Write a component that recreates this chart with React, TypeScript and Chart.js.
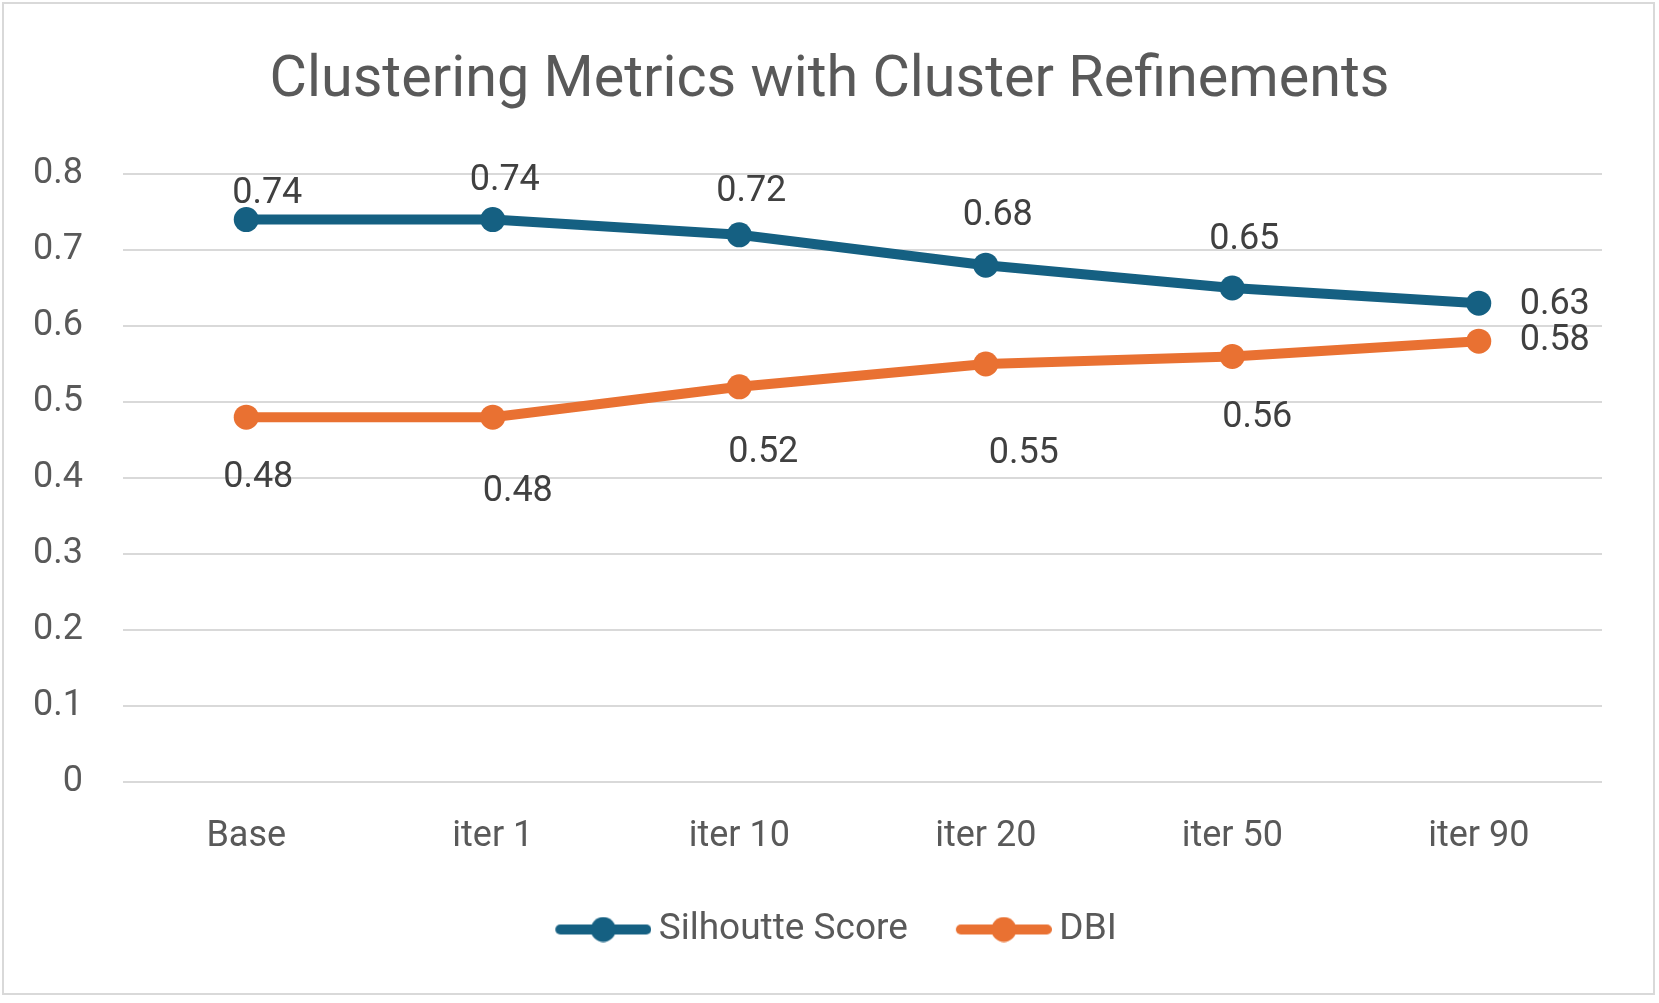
import React, { useEffect, useRef } from "react";
import { Chart, registerables } from "chart.js";

Chart.register(...registerables);

const categories = ["Base", "iter 1", "iter 10", "iter 20", "iter 50", "iter 90"];
const silhouetteScores = [0.74, 0.74, 0.72, 0.68, 0.65, 0.63];
const dbiScores = [0.48, 0.48, 0.52, 0.55, 0.56, 0.58];
const seriesNames = ["Silhoutte Score", "DBI"];
const chartTitle = "Clustering Metrics with Cluster Refinements";
const yMin = 0;
const yMax = 0.8;
const yStep = 0.1;

// style: pixel offsets of the data labels relative to their points
const labelOffsets = [
  [[21, -26], [12, -39], [12, -43], [12, -49], [12, -48], [76, 2]],
  [[12, 61], [25, 75], [24, 66], [38, 90], [25, 62], [76, 0]],
];

const COLORS = ["#156082", "#E97132"];
const FONT = "Roboto";

function makeLegendIcon(color: string) {
  const c = document.createElement("canvas");
  c.width = 120;
  c.height = 26;
  const ctx = c.getContext("2d")!;
  ctx.strokeStyle = color;
  ctx.lineWidth = 10;
  ctx.lineCap = "round";
  ctx.beginPath();
  ctx.moveTo(29, 13);
  ctx.lineTo(115, 13);
  ctx.stroke();
  ctx.fillStyle = color;
  ctx.beginPath();
  ctx.arc(72, 13, 12.5, 0, Math.PI * 2);
  ctx.fill();
  return c;
}

const dataLabelPlugin = {
  id: "dataLabelPlugin",
  afterDatasetsDraw(chart: any) {
    const ctx = chart.ctx;
    ctx.save();
    ctx.font = `36px ${FONT}`;
    ctx.fillStyle = "#404040";
    ctx.textAlign = "center";
    ctx.textBaseline = "middle";
    chart.data.datasets.forEach((ds: any, di: number) => {
      const meta = chart.getDatasetMeta(di);
      meta.data.forEach((pt: any, i: number) => {
        const off = labelOffsets[di][i];
        ctx.fillText(String(ds.data[i]), pt.x + off[0], pt.y + off[1]);
      });
    });
    ctx.restore();
  },
};

export default function App() {
  const ref = useRef<HTMLCanvasElement>(null);

  useEffect(() => {
    const icons = COLORS.map(makeLegendIcon);
    const chart = new Chart(ref.current!, {
      type: "line",
      data: {
        labels: categories,
        datasets: [
          {
            label: seriesNames[0],
            data: silhouetteScores,
            borderColor: COLORS[0],
            backgroundColor: COLORS[0],
            borderWidth: 10,
            pointRadius: 12.5,
            pointBorderWidth: 0,
            pointBackgroundColor: COLORS[0],
            tension: 0,
          },
          {
            label: seriesNames[1],
            data: dbiScores,
            borderColor: COLORS[1],
            backgroundColor: COLORS[1],
            borderWidth: 10,
            pointRadius: 12.5,
            pointBorderWidth: 0,
            pointBackgroundColor: COLORS[1],
            tension: 0,
          },
        ],
      },
      options: {
        animation: false,
        responsive: false,
        devicePixelRatio: 1,
        layout: { padding: { left: 0, right: 0, top: 0, bottom: 45 } },
        plugins: {
          title: {
            display: true,
            text: chartTitle,
            color: "#595959",
            font: { family: FONT, size: 57.5, weight: "normal" },
            padding: { top: 47, bottom: 58 },
          },
          legend: {
            display: true,
            position: "bottom",
            labels: {
              usePointStyle: true,
              pointStyleWidth: 98,
              boxHeight: 26,
              padding: 35,
              color: "#595959",
              font: { family: FONT, size: 37 },
              generateLabels(chart: any) {
                const items = Chart.defaults.plugins.legend.labels.generateLabels(chart);
                return items.map((it: any, i: number) => ({ ...it, pointStyle: icons[i] }));
              },
            },
          },
          tooltip: { enabled: false },
        },
        scales: {
          x: {
            type: "category",
            offset: true,
            grid: { display: false },
            border: { display: false },
            ticks: {
              color: "#595959",
              font: { family: FONT, size: 36 },
              padding: 25,
              maxRotation: 0,
            },
            afterFit(scale: any) {
              scale.height = 94;
            },
          },
          y: {
            min: yMin,
            max: yMax,
            grid: { color: "#d9d9d9", lineWidth: 2, drawTicks: false },
            border: { display: false },
            ticks: {
              stepSize: yStep,
              color: "#595959",
              font: { family: FONT, size: 36 },
              padding: 40,
              callback: (v: any) => String(Number(Number(v).toFixed(1))),
            },
            afterFit(scale: any) {
              scale.width = 123;
            },
          },
          yRight: {
            position: "right",
            display: true,
            grid: { display: false },
            border: { display: false },
            ticks: { display: false },
            afterFit(scale: any) {
              scale.width = 57;
            },
          },
        },
      },
      plugins: [dataLabelPlugin],
    } as any);
    return () => chart.destroy();
  }, []);

  return (
    <div style={{ position: "absolute", left: 0, top: 0, width: 1659, height: 1003, background: "#fff" }}>
      <canvas ref={ref} width={1659} height={1003} style={{ width: 1659, height: 1003, display: "block" }} />
      <div
        style={{
          position: "absolute",
          left: 2,
          top: 2,
          width: 1653,
          height: 993,
          border: "2px solid #d9d9d9",
          boxSizing: "border-box",
          pointerEvents: "none",
        }}
      />
    </div>
  );
}
